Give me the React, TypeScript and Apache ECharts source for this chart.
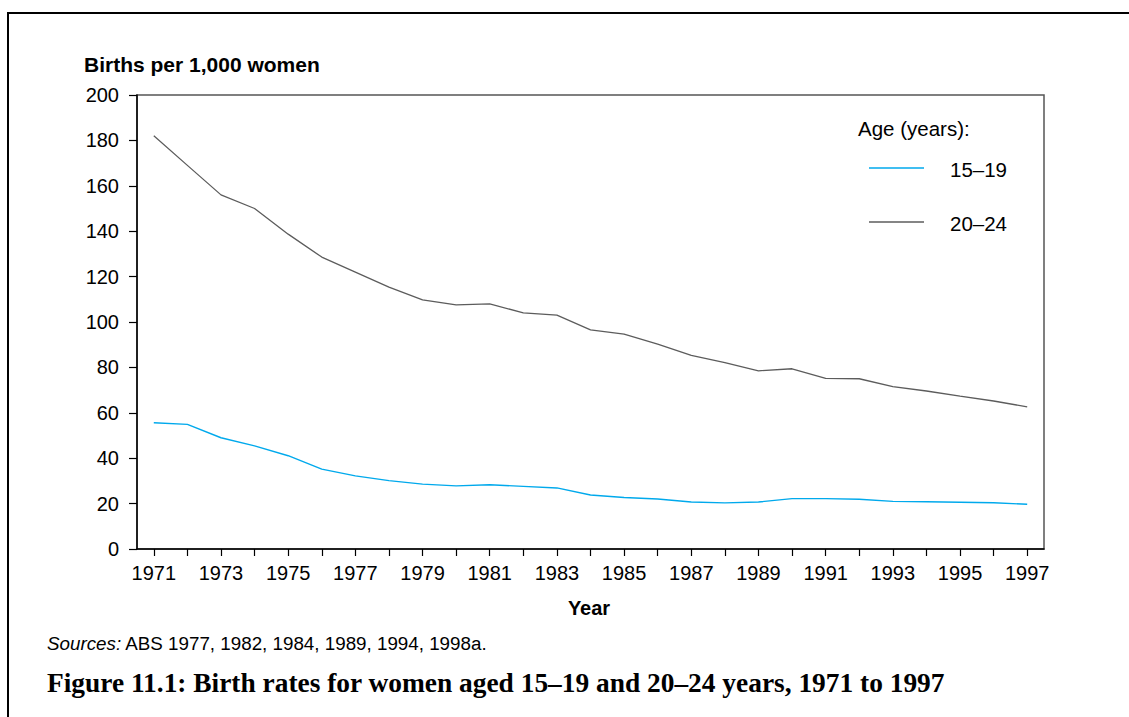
import React, { useEffect, useRef } from "react";
import * as echarts from "echarts";

const years = [
  "1971", "1972", "1973", "1974", "1975", "1976", "1977", "1978", "1979",
  "1980", "1981", "1982", "1983", "1984", "1985", "1986", "1987", "1988",
  "1989", "1990", "1991", "1992", "1993", "1994", "1995", "1996", "1997",
];

const age15to19 = [
  55.6, 54.9, 49.0, 45.4, 41.1, 35.2, 32.2, 30.1, 28.6, 27.8, 28.3, 27.6, 26.9,
  23.8, 22.7, 22.0, 20.7, 20.3, 20.7, 22.2, 22.2, 21.9, 21.0, 20.8, 20.6, 20.4,
  19.7,
];

const age20to24 = [
  182, 169, 156, 150, 138.7, 128.6, 122, 115.4, 109.7, 107.5, 108, 104, 103,
  96.5, 94.7, 90.3, 85.3, 82.1, 78.5, 79.4, 75.2, 75.0, 71.5, 69.6, 67.3, 65.2,
  62.6,
];

const seriesNames = ["15–19", "20–24"];
const seriesColors = ["#00a9ec", "#5c5c5c"];

const yTitle = "Births per 1,000 women";
const xTitle = "Year";
const legendTitle = "Age (years):";
const sourcesLabel = "Sources:";
const sourcesText = " ABS 1977, 1982, 1984, 1989, 1994, 1998a.";
const caption =
  "Figure 11.1: Birth rates for women aged 15–19 and 20–24 years, 1971 to 1997";

const SANS = "'Liberation Sans', Arial, Helvetica, sans-serif";
const SERIF = "'Liberation Serif', 'Times New Roman', serif";

export default function App() {
  const ref = useRef<HTMLDivElement>(null);

  useEffect(() => {
    if (!ref.current) return;
    const chart = echarts.init(ref.current, undefined, { renderer: "svg" });

    const legendY = [168, 222];

    chart.setOption({
      animation: false,
      backgroundColor: "#ffffff",
      grid: {
        left: 137,
        top: 95,
        right: 85,
        bottom: 168,
        show: true,
        borderColor: "#555555",
        borderWidth: 1.5,
        backgroundColor: "transparent",
      },
      xAxis: {
        type: "category",
        data: years,
        boundaryGap: true,
        axisLine: { show: true, lineStyle: { color: "#000", width: 1.5 } },
        axisTick: {
          show: true,
          alignWithLabel: true,
          interval: 0,
          length: 7,
          lineStyle: { color: "#000", width: 1.2 },
        },
        axisLabel: {
          interval: 1,
          margin: 14,
          color: "#000",
          fontSize: 20,
          fontFamily: SANS,
        },
        splitLine: { show: false },
      },
      yAxis: {
        type: "value",
        min: 0,
        max: 200,
        interval: 20,
        axisLine: { show: true, lineStyle: { color: "#000", width: 1.5 } },
        axisTick: {
          show: true,
          length: 8,
          lineStyle: { color: "#000", width: 1.2 },
        },
        axisLabel: {
          margin: 18,
          color: "#000",
          fontSize: 20,
          fontFamily: SANS,
        },
        splitLine: { show: false },
      },
      series: [
        {
          name: seriesNames[0],
          type: "line",
          data: age15to19,
          symbol: "none",
          lineStyle: { color: seriesColors[0], width: 1.4 },
          itemStyle: { color: seriesColors[0] },
        },
        {
          name: seriesNames[1],
          type: "line",
          data: age20to24,
          symbol: "none",
          lineStyle: { color: seriesColors[1], width: 1.3 },
          itemStyle: { color: seriesColors[1] },
        },
      ],
      graphic: [
        // outer frame
        {
          type: "line",
          shape: { x1: 7, y1: 13, x2: 1129, y2: 13 },
          style: { stroke: "#000", lineWidth: 2 },
        },
        {
          type: "line",
          shape: { x1: 8, y1: 12, x2: 8, y2: 717 },
          style: { stroke: "#000", lineWidth: 2 },
        },
        {
          type: "text",
          x: 84,
          y: 64,
          style: {
            text: yTitle,
            font: `bold 21px ${SANS}`,
            fill: "#000",
            textAlign: "left",
            textVerticalAlign: "middle",
          },
        },
        {
          type: "text",
          x: 589,
          y: 608,
          style: {
            text: xTitle,
            font: `bold 20px ${SANS}`,
            fill: "#000",
            textAlign: "center",
            textVerticalAlign: "middle",
          },
        },
        {
          type: "text",
          x: 858,
          y: 128,
          style: {
            text: legendTitle,
            font: `20.5px ${SANS}`,
            fill: "#000",
            textAlign: "left",
            textVerticalAlign: "middle",
          },
        },
        ...seriesNames.flatMap((name, i) => [
          {
            type: "line",
            shape: { x1: 869, y1: legendY[i], x2: 924, y2: legendY[i] },
            style: { stroke: seriesColors[i], lineWidth: 1.4 },
          },
          {
            type: "text",
            x: 950,
            y: legendY[i] + 1,
            style: {
              text: name,
              font: `20.5px ${SANS}`,
              fill: "#000",
              textAlign: "left",
              textVerticalAlign: "middle",
            },
          },
        ]),
        {
          type: "text",
          x: 47,
          y: 643,
          style: {
            text: `{i|${sourcesLabel}}{r|${sourcesText}}`,
            textVerticalAlign: "middle",
            textAlign: "left",
            rich: {
              i: {
                fontFamily: SANS,
                fontSize: 18.8,
                fontStyle: "italic",
                fill: "#000",
              },
              r: { fontFamily: SANS, fontSize: 18.8, fill: "#000" },
            },
          },
        },
        {
          type: "text",
          x: 47,
          y: 683,
          style: {
            text: caption,
            font: `bold 27.4px ${SERIF}`,
            fill: "#000",
            textAlign: "left",
            textVerticalAlign: "middle",
          },
        },
      ],
    });

    return () => chart.dispose();
  }, []);

  return (
    <div
      ref={ref}
      style={{
        position: "fixed",
        left: 0,
        top: 0,
        width: 1129,
        height: 717,
        background: "#fff",
      }}
    />
  );
}
